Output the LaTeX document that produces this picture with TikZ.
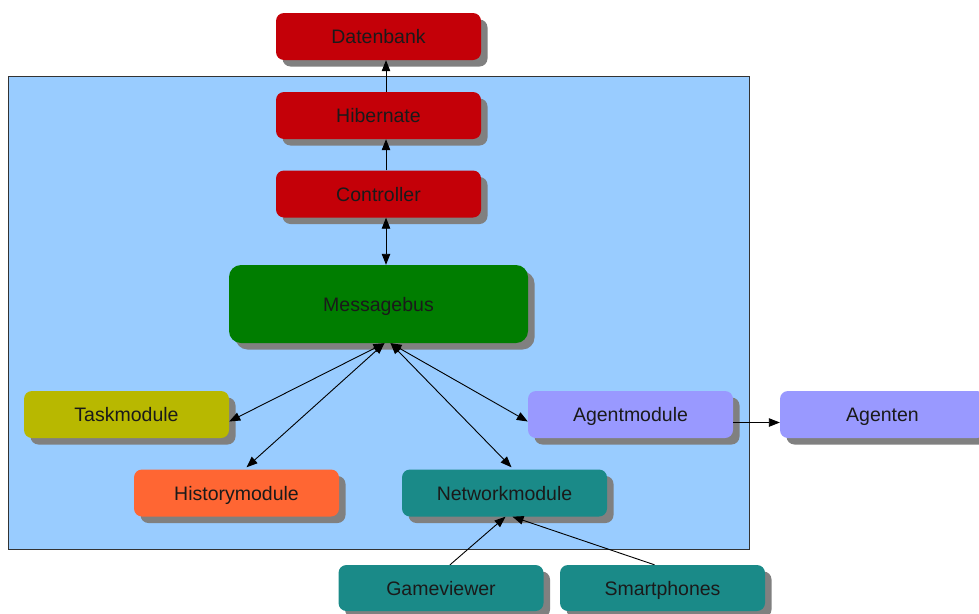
\documentclass[tikz,border=0pt]{standalone}
\usepackage{fontspec}
\setmainfont{Liberation Sans}
\usetikzlibrary{arrows.meta,shadows}

\definecolor{dbred}{HTML}{C40008}
\definecolor{busgreen}{HTML}{007D00}
\definecolor{taskolive}{HTML}{B8B800}
\definecolor{historange}{HTML}{FF6633}
\definecolor{netteal}{HTML}{1A8A88}
\definecolor{agentblue}{HTML}{9999FF}
\definecolor{clusterblue}{HTML}{99CCFF}
\definecolor{shadowgray}{HTML}{808080}
\definecolor{textdark}{HTML}{1A1A1A}

\tikzset{
  box/.style={rectangle, rounded corners=8pt, inner sep=0pt,
    minimum width=205pt, minimum height=47pt,
    text height=16pt, text depth=2pt,
    font=\fontsize{19.5}{21}\selectfont, text=textdark,
    drop shadow={shadow xshift=6.5pt, shadow yshift=-6.5pt,
      fill=shadowgray, opacity=1}},
  tip/.tip={Triangle[length=11pt,width=8.5pt]},
  link/.style={line width=0.9pt, -tip},
  biglink/.style={line width=0.9pt, tip-tip},
}

\begin{document}
\begin{tikzpicture}[x=1pt,y=-1pt]
  \useasboundingbox (0,0) rectangle (979,613);
  \clip (0,0) rectangle (979,613);

  % cluster background
  \draw[fill=clusterblue, draw=black!80, line width=0.8pt] (8,76) rectangle (749,549);

  % storage and controller chain
  \node[box, fill=dbred] (db)  at (378.5,36.5) {Datenbank};
  \node[box, fill=dbred] (hib) at (378.5,115.5) {Hibernate};
  \node[box, fill=dbred] (ctl) at (378.5,194) {Controller};

  % message bus
  \node[box, fill=busgreen, rounded corners=12pt,
        minimum width=299pt, minimum height=78pt] (mb) at (378.5,304) {Messagebus};

  % modules
  \node[box, fill=taskolive]  (task)  at (126.5,414.5) {Taskmodule};
  \node[box, fill=historange] (hist)  at (236.5,493) {Historymodule};
  \node[box, fill=netteal]    (net)   at (504.5,493) {Networkmodule};
  \node[box, fill=agentblue]  (agent) at (630.5,414.5) {Agentmodule};
  \node[box, fill=agentblue]  (agt)   at (882.5,414.5) {Agenten};

  % clients
  \node[box, fill=netteal, minimum height=46pt] (gv) at (441,588) {Gameviewer};
  \node[box, fill=netteal, minimum height=46pt] (sp) at (662.5,588) {Smartphones};

  % connections
  \draw[link] ([xshift=7.5pt]hib.north) -- ([xshift=7.5pt]db.south);
  \draw[link] ([xshift=7.5pt]ctl.north) -- ([xshift=7.5pt]hib.south);
  \draw[biglink] ([xshift=7.5pt]ctl.south) -- ([xshift=7.5pt]mb.north);

  \draw[biglink] ([xshift=6pt]mb.south) -- ([yshift=-7pt]task.east);
  \draw[biglink] ([xshift=6pt]mb.south) -- ([xshift=10pt,yshift=2pt]hist.north);
  \draw[biglink] ([xshift=12pt]mb.south) -- ([yshift=-7pt]agent.west);
  \draw[biglink] ([xshift=12pt]mb.south) -- ([xshift=7pt,yshift=2pt]net.north);

  \draw[link] ([yshift=-8pt]agent.east) -- ([yshift=-8pt]agt.west);

  \draw[link] ([xshift=9pt]gv.north) -- ([xshift=1pt]net.south);
  \draw[link] ([xshift=-8pt]sp.north) -- ([xshift=8pt]net.south);
\end{tikzpicture}
\end{document}
